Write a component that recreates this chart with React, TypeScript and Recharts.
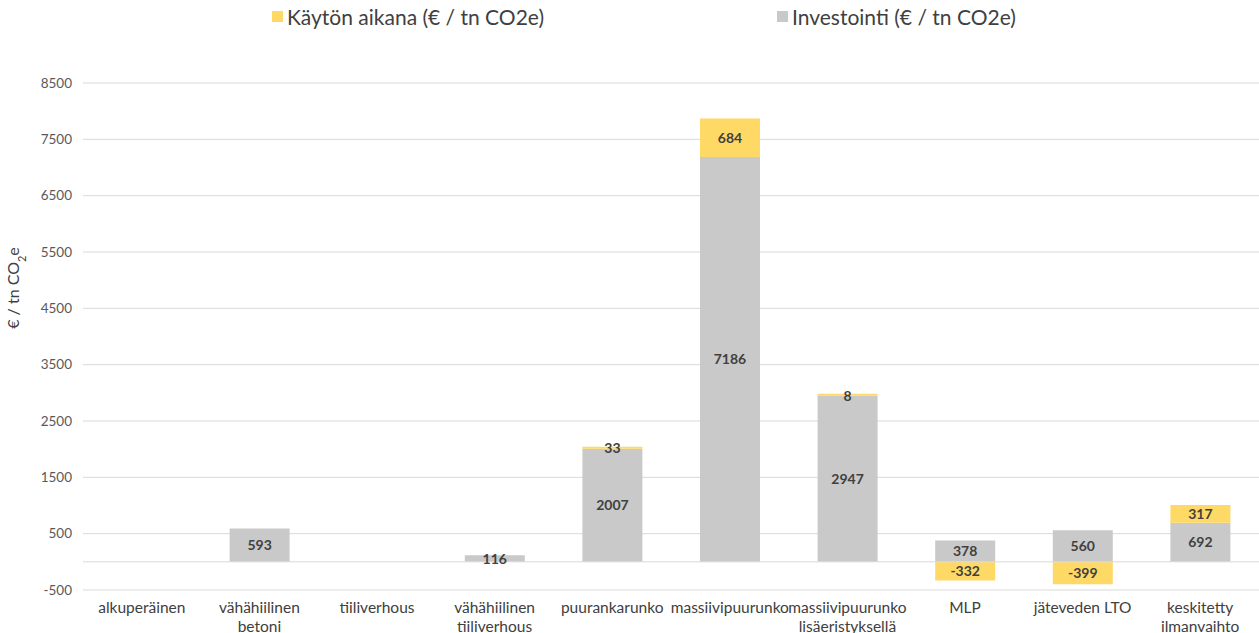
import React from 'react'
import { Bar, BarChart, CartesianGrid, LabelList, Legend, ReferenceLine, Rectangle, XAxis, YAxis } from 'recharts'

// toimenpiteet (rivinvaihto \n kahdelle riville)
const categories = [
  'alkuperäinen',
  'vähähiilinen\nbetoni',
  'tiiliverhous',
  'vähähiilinen\ntiiliverhous',
  'puurankarunko',
  'massiivipuurunko',
  'massiivipuurunko\nlisäeristyksellä',
  'MLP',
  'jäteveden LTO',
  'keskitetty\nilmanvaihto',
]

const investointi = [null, 593, null, 116, 2007, 7186, 2947, 378, 560, 692]
const kaytonAikana = [null, null, null, null, 33, 684, 8, -332, -399, 317]

const yTicks = [-500, 500, 1500, 2500, 3500, 4500, 5500, 6500, 7500, 8500]

const seriesNames = {
  kaytto: 'Käytön aikana (€ / tn CO2e)',
  investointi: 'Investointi (€ / tn CO2e)',
}

const YELLOW = '#FFD966'
const GRAY = '#C9C9C9'
const FONT = 'Lato, "Noto Sans", sans-serif'

const data = categories.map((name, i) => ({
  name,
  investointi: investointi[i],
  kaytto: kaytonAikana[i],
}))

const CategoryTick = (props: any) => {
  const { x, y, payload } = props
  const lines = String(payload.value).split('\n')
  return (
    <text x={x} y={y + 15} textAnchor="middle" fill="#404040" fontSize={15.5} fontFamily={FONT}>
      {lines.map((l, i) => (
        <tspan key={i} x={x} dy={i === 0 ? 0 : 18.5}>
          {l}
        </tspan>
      ))}
    </text>
  )
}

const TopLegend = () => (
  <div style={{ position: 'relative', height: 40, fontFamily: FONT, fontSize: 21, color: '#404040' }}>
    <div style={{ position: 'absolute', left: 272, top: 4, display: 'flex', alignItems: 'center' }}>
      <span style={{ width: 11, height: 11, background: YELLOW, marginRight: 4 }} />
      {seriesNames.kaytto}
    </div>
    <div style={{ position: 'absolute', left: 777, top: 4, display: 'flex', alignItems: 'center' }}>
      <span style={{ width: 11, height: 11, background: GRAY, marginRight: 4 }} />
      {seriesNames.investointi}
    </div>
  </div>
)

const YTitle = () => (
  <text x={19} y={288} transform="rotate(-90 19 288)" textAnchor="middle" fill="#404040" fontSize={16} fontFamily={FONT}>
    € / tn CO<tspan baselineShift="sub" fontSize={11}>2</tspan>e
  </text>
)

const fmt = (v: any) => (v === null || v === undefined ? '' : v)

// ohuille arvoille (esim. 8) vähintään 2 px korkea palkki, tyhjille ei mitään
const KayttoShape = (props: any) => {
  const { x, y, width, height, payload } = props
  if (payload?.kaytto === null || payload?.kaytto === undefined) return null
  if (Math.abs(height) >= 2) return <Rectangle x={x} y={y} width={width} height={height} fill={YELLOW} />
  return <Rectangle x={x} y={y + height - 2} width={width} height={2} fill={YELLOW} />
}

export default function App() {
  return (
    <div style={{ position: 'absolute', left: 0, top: 0 }}>
      <BarChart
        width={1259}
        height={633}
        data={data}
        stackOffset="sign"
        barSize={60}
        margin={{ top: 43, right: 0, left: 0, bottom: 0 }}
      >
        <Legend verticalAlign="top" content={<TopLegend />} wrapperStyle={{ top: 0, left: 0, width: 1259 }} />
        <CartesianGrid vertical={false} stroke="#D9D9D9" />
        <XAxis
          dataKey="name"
          axisLine={false}
          tickLine={false}
          height={43}
          interval={0}
          tick={<CategoryTick />}
        />
        <YAxis
          domain={[-500, 8500]}
          ticks={yTicks}
          width={83}
          axisLine={false}
          tickLine={false}
          tickMargin={5}
          tick={{ fill: '#595959', fontSize: 13.5, fontFamily: FONT }}
          label={{ content: () => <YTitle /> }}
        />
        <ReferenceLine y={0} stroke="#D9D9D9" />
        <Bar dataKey="investointi" name={seriesNames.investointi} stackId="a" fill={GRAY} isAnimationActive={false}>
          <LabelList dataKey="investointi" position="center" formatter={fmt} fill="#404040" fontSize={14} fontWeight="bold" fontFamily={FONT} />
        </Bar>
        <Bar dataKey="kaytto" name={seriesNames.kaytto} stackId="a" fill={YELLOW} shape={<KayttoShape />} isAnimationActive={false}>
          <LabelList dataKey="kaytto" position="center" formatter={fmt} fill="#404040" fontSize={14} fontWeight="bold" fontFamily={FONT} />
        </Bar>
      </BarChart>
    </div>
  )
}
